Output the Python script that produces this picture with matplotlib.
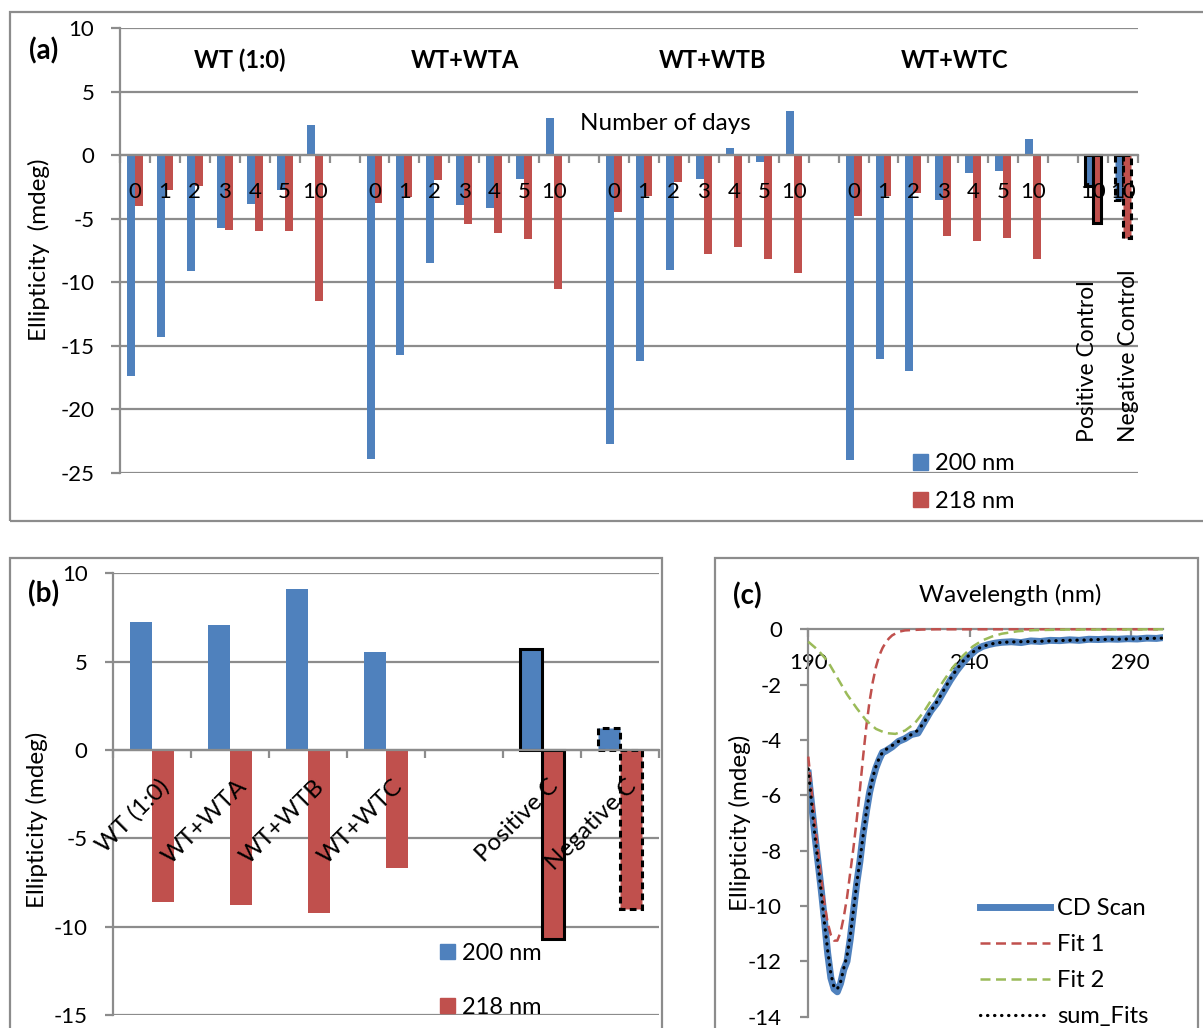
import numpy as np
import matplotlib
matplotlib.use("Agg")
import matplotlib.pyplot as plt
from matplotlib.patches import Patch, Rectangle
from matplotlib.ticker import FixedLocator, NullFormatter

plt.rcParams['font.family'] = ['Lato', 'DejaVu Sans']
plt.rcParams['axes.unicode_minus'] = False

W, H = 1203, 1028
BLUE = '#4F81BD'
RED = '#C0504D'
GREEN = '#9BBB59'
GRID = '#8C8C8C'

# ---------------- data ----------------
day_labels = ["0", "1", "2", "3", "4", "5", "10"]
group_names = ["WT (1:0)", "WT+WTA", "WT+WTB", "WT+WTC"]

wt_200 = [-17.4, -14.3, -9.1, -5.7, -3.85, -2.75, 2.4]
wt_218 = [-4.0, -2.75, -2.4, -5.9, -6.0, -6.0, -11.5]
wta_200 = [-23.9, -15.7, -8.5, -3.9, -4.15, -1.85, 2.9]
wta_218 = [-3.8, -3.3, -1.95, -5.4, -6.15, -6.6, -10.5]
wtb_200 = [-22.7, -16.2, -9.0, -1.9, 0.6, -0.55, 3.45]
wtb_218 = [-4.5, -3.25, -2.1, -7.8, -7.2, -8.2, -9.3]
wtc_200 = [-24.0, -16.0, -17.0, -3.55, -1.4, -1.25, 1.25]
wtc_218 = [-4.75, -3.2, -2.95, -6.35, -6.75, -6.55, -8.2]

control_names = ["Positive Control", "Negative Control"]
control_day = "10"
control_200 = [-2.4, -3.5]
control_218 = [-5.35, -6.55]

summary_cats = ["WT (1:0)", "WT+WTA", "WT+WTB", "WT+WTC", "", "Positive C", "Negative C"]
summary_200 = [7.26, 7.07, 9.11, 5.56, np.nan, 5.7, 1.22]
summary_218 = [-8.58, -8.77, -9.24, -6.7, np.nan, -10.7, -9.0]

cd_wl = [190, 191, 192, 193, 194, 195, 196, 197, 198, 199, 200, 201, 202, 203, 204,
         205, 206, 207, 208, 209, 210, 211, 212, 213, 214, 216, 218, 220, 222, 224,
         226, 228, 230, 232, 234, 236, 238, 240, 242, 244, 246, 248, 250, 253, 256,
         259, 262, 265, 268, 271, 274, 277, 280, 283, 286, 289, 292, 295, 298, 300]
cd_val = [-5.2, -6.3, -7.4, -8.4, -9.4, -10.5, -11.7, -12.6, -13.0, -13.1, -12.8, -12.3,
          -12.0, -11.2, -10.2, -9.2, -8.4, -7.4, -6.6, -5.9, -5.4, -5.0, -4.7, -4.45,
          -4.4, -4.25, -4.05, -3.95, -3.8, -3.75, -3.35, -2.95, -2.65, -2.25, -1.85,
          -1.5, -1.2, -0.95, -0.75, -0.62, -0.55, -0.5, -0.47, -0.45, -0.48, -0.42,
          -0.44, -0.4, -0.41, -0.38, -0.4, -0.36, -0.37, -0.35, -0.36, -0.34, -0.35,
          -0.32, -0.33, -0.3]

fit1_wl = [190, 191, 192, 193, 194, 195, 196, 197, 198, 199, 200, 201, 202, 203, 204,
           205, 206, 207, 208, 209, 210, 211, 212, 213, 214, 215, 216, 218, 220, 225,
           230, 240, 260, 280, 300]
fit1_val = [-4.6, -5.8, -6.95, -8.0, -9.0, -9.9, -10.6, -11.05, -11.25, -11.25, -10.95,
            -10.4, -9.7, -8.8, -7.9, -6.9, -5.8, -4.6, -3.5, -2.6, -1.9, -1.35, -0.95,
            -0.68, -0.48, -0.33, -0.22, -0.09, -0.04, -0.01, 0.0, 0.0, 0.0, 0.0, 0.0]

fit2_wl = [190, 193, 196, 199, 202, 205, 208, 211, 214, 217, 220, 223, 226, 229, 232,
           235, 238, 241, 244, 247, 250, 255, 260, 270, 280, 300]
fit2_val = [-0.45, -0.75, -1.15, -1.75, -2.35, -2.85, -3.3, -3.6, -3.75, -3.78, -3.66,
            -3.4, -2.95, -2.4, -1.85, -1.35, -0.95, -0.62, -0.4, -0.26, -0.16, -0.07,
            -0.03, -0.01, -0.01, 0.0]

sum_wl = [190, 191, 192, 193, 194, 195, 196, 197, 198, 199, 200, 201, 202, 203, 204,
          205, 206, 207, 208, 209, 210, 211, 212, 213, 214, 216, 218, 220, 222, 224,
          226, 228, 230, 232, 234, 236, 238, 240, 242, 244, 246, 248, 250, 255, 260,
          265, 270, 275, 280, 285, 290, 295, 300]
sum_val = [-5.05, -6.25, -7.4, -8.45, -9.5, -10.6, -11.6, -12.45, -12.95, -13.0, -12.75,
           -12.25, -11.8, -11.1, -10.15, -9.2, -8.35, -7.45, -6.6, -5.9, -5.35, -4.95,
           -4.65, -4.45, -4.35, -4.2, -4.05, -3.95, -3.8, -3.65, -3.35, -2.95, -2.6,
           -2.2, -1.8, -1.45, -1.15, -0.92, -0.74, -0.62, -0.55, -0.5, -0.47, -0.45,
           -0.44, -0.42, -0.4, -0.39, -0.37, -0.36, -0.35, -0.33, -0.32]

# ---------------- text sizes ----------------
NUM_FS = 16      # numeric tick labels
WORD_FS = 17.5   # axis titles and annotations
LEG_FS = 17      # legend entries
TAG_FS = 20      # panel tags


# ---------------- helpers ----------------
def fx(x):
    return x / W


def fy(y):
    return 1 - y / H


def rect(l, t, r, b):
    return [l / W, 1 - b / H, (r - l) / W, (b - t) / H]


def frame(l, t, r, b):
    fig.patches.append(Rectangle((fx(l), fy(b)), (r - l) / W, (b - t) / H,
                                 transform=fig.transFigure, fill=False,
                                 ec=GRID, lw=1.6, zorder=0))


def style_axes(ax, tick_len):
    for s in ('top', 'right'):
        ax.spines[s].set_visible(False)
    for s in ('left', 'bottom'):
        ax.spines[s].set_color(GRID)
        ax.spines[s].set_linewidth(1.6)
    ax.spines['bottom'].set_position(('data', 0))
    ax.tick_params(axis='both', which='major', color=GRID, width=1.6,
                   length=tick_len, direction='out')


fig = plt.figure(figsize=(W / 100, H / 100), dpi=100)

frame(10, 11.7, 1215, 520.7)
frame(10, 558, 661.7, 1040)
frame(715, 558, 1198, 1040)

# ---------------- panel (a): ellipticity over days ----------------
ax = fig.add_axes(rect(120, 28, 1138, 473))
bw = 0.267
series_200 = [wt_200, wta_200, wtb_200, wtc_200]
series_218 = [wt_218, wta_218, wtb_218, wtc_218]
n_days = len(day_labels)
cat_labels = []
for g in range(len(group_names)):
    x = g * (n_days + 1) + np.arange(n_days)
    ax.bar(x - bw / 2, series_200[g], bw, color=BLUE, zorder=2)
    ax.bar(x + bw / 2, series_218[g], bw, color=RED, zorder=2)
    cat_labels += day_labels + [""]
ctrl_x = len(group_names) * (n_days + 1) + np.arange(len(control_names))
cat_labels += [control_day] * len(control_names)
for i, cx in enumerate(ctrl_x):
    ls = '-' if i == 0 else (0, (2.2, 1.4))
    ax.bar(cx - bw / 2, control_200[i], bw, color=BLUE, ec='black', lw=2.2, ls=ls, zorder=2)
    ax.bar(cx + bw / 2, control_218[i], bw, color=RED, ec='black', lw=2.2, ls=ls, zorder=2)

n_cats = len(cat_labels)
ax.set_xlim(-0.5, n_cats - 0.5)
ax.set_ylim(-25, 10)
style_axes(ax, 6.5)
ax.set_yticks(np.arange(-25, 11, 5))
ax.yaxis.grid(True, color=GRID, lw=1.6, zorder=0)
ax.set_axisbelow(True)
ax.tick_params(axis='y', labelsize=NUM_FS, pad=12)
ax.xaxis.set_major_locator(FixedLocator(np.arange(-0.5, n_cats, 1)))
ax.xaxis.set_major_formatter(NullFormatter())
ax.tick_params(axis='x', which='major', length=6)
# day numbers sit just under the zero line, drawn over the bars
for i, lab in enumerate(cat_labels):
    ax.text(i, -2.9, lab, ha='center', va='center', fontsize=NUM_FS, zorder=5)
ax.set_ylabel("Ellipticity  (mdeg)", fontsize=WORD_FS, va='center')
ax.yaxis.set_label_coords(fx(39), fy(250), transform=fig.transFigure)

for i, cx in enumerate(ctrl_x):
    ax.text(cx + (-0.17 if i == 0 else 0.17), -22.6, control_names[i], rotation=90,
            ha='center', va='bottom', fontsize=16.5, zorder=5)

for name, px in zip(group_names, [240, 465, 713, 955]):
    fig.text(fx(px), fy(60), name, ha='center', va='center', fontsize=17,
             fontweight='bold')
fig.text(fx(665), fy(123), "Number of days", ha='center', va='center', fontsize=WORD_FS)
fig.text(fx(44), fy(51), "(a)", ha='center', va='center', fontsize=TAG_FS,
         fontweight='bold')

ax.legend([Patch(color=BLUE), Patch(color=RED)], ["200 nm", "218 nm"],
          loc='upper left', bbox_to_anchor=(fx(913), fy(453.5)),
          bbox_transform=fig.transFigure, frameon=False, fontsize=LEG_FS,
          handlelength=0.64, handleheight=0.64, handletextpad=0.3,
          labelspacing=0.69, borderpad=0, borderaxespad=0)

# ---------------- panel (b): summary ----------------
axb = fig.add_axes(rect(113.3, 573.3, 659, 1015))
bwb = 0.282
xb = np.arange(len(summary_cats))
b200 = axb.bar(xb - bwb / 2, summary_200, bwb, color=BLUE, zorder=2)
b218 = axb.bar(xb + bwb / 2, summary_218, bwb, color=RED, zorder=2)
for cont in (b200, b218):
    cont.patches[5].set_edgecolor('black')
    cont.patches[5].set_linewidth(2.2)
    cont.patches[6].set_edgecolor('black')
    cont.patches[6].set_linewidth(2.2)
    cont.patches[6].set_linestyle((0, (2.2, 1.4)))
axb.set_xlim(-0.5, len(summary_cats) - 0.5)
axb.set_ylim(-15, 10)
style_axes(axb, 5.5)
axb.set_yticks(np.arange(-15, 11, 5))
axb.yaxis.grid(True, color=GRID, lw=1.6, zorder=0)
axb.set_axisbelow(True)
axb.tick_params(axis='y', labelsize=NUM_FS, pad=13)
axb.xaxis.set_major_locator(FixedLocator(np.arange(-0.5, len(summary_cats), 1)))
axb.xaxis.set_major_formatter(NullFormatter())
for i, name in enumerate(summary_cats):
    axb.text(i + 0.07, -1.45, name, rotation=45, rotation_mode='anchor',
             ha='right', va='top', fontsize=WORD_FS, zorder=5)
axb.set_ylabel("Ellipticity (mdeg)", fontsize=WORD_FS, va='center')
axb.yaxis.set_label_coords(fx(37), fy(820), transform=fig.transFigure)
fig.text(fx(44), fy(594), "(b)", ha='center', va='center', fontsize=TAG_FS,
         fontweight='bold')
axb.legend([Patch(color=BLUE), Patch(color=RED)], ["200 nm", "218 nm"],
           loc='upper left', bbox_to_anchor=(fx(440), fy(942.7)),
           bbox_transform=fig.transFigure, frameon=False, fontsize=LEG_FS,
           handlelength=0.64, handleheight=0.64, handletextpad=0.3,
           labelspacing=1.4, borderpad=0, borderaxespad=0)

# ---------------- panel (c): CD scan and fits ----------------
axc = fig.add_axes(rect(808.3, 629.3, 1163, 1016.7))
axc.plot(cd_wl, cd_val, color=BLUE, lw=5, solid_joinstyle='round', zorder=2,
         label="CD Scan")
axc.plot(fit1_wl, fit1_val, color=RED, lw=1.8, ls=(0, (4, 2.2)), zorder=3,
         clip_on=False, label="Fit 1")
axc.plot(fit2_wl, fit2_val, color=GREEN, lw=1.8, ls=(0, (4, 2.2)), zorder=3,
         clip_on=False, label="Fit 2")
axc.plot(sum_wl, sum_val, color='black', lw=2.3, ls=(0, (0.1, 2.1)),
         dash_capstyle='round', zorder=4, label="sum_Fits")
axc.set_xlim(190, 300)
axc.set_ylim(-14, 0)
style_axes(axc, 6)
axc.set_xticks([190, 240, 290])
axc.set_yticks(np.arange(-14, 1, 2))
axc.tick_params(axis='x', labelsize=NUM_FS, pad=11)
axc.tick_params(axis='y', labelsize=NUM_FS, pad=13)
axc.set_ylabel("Ellipticity (mdeg)", fontsize=WORD_FS, va='center')
axc.yaxis.set_label_coords(fx(740), fy(823), transform=fig.transFigure)
fig.text(fx(1010), fy(595), "Wavelength (nm)", ha='center', va='center', fontsize=WORD_FS)
fig.text(fx(747), fy(596), "(c)", ha='center', va='center', fontsize=TAG_FS,
         fontweight='bold')
axc.legend(loc='upper left', bbox_to_anchor=(fx(980), fy(898)),
           bbox_transform=fig.transFigure, frameon=False, fontsize=LEG_FS,
           handlelength=2.97, handletextpad=0.3, labelspacing=0.64,
           borderpad=0, borderaxespad=0)

fig.savefig("out.png", dpi=100)
